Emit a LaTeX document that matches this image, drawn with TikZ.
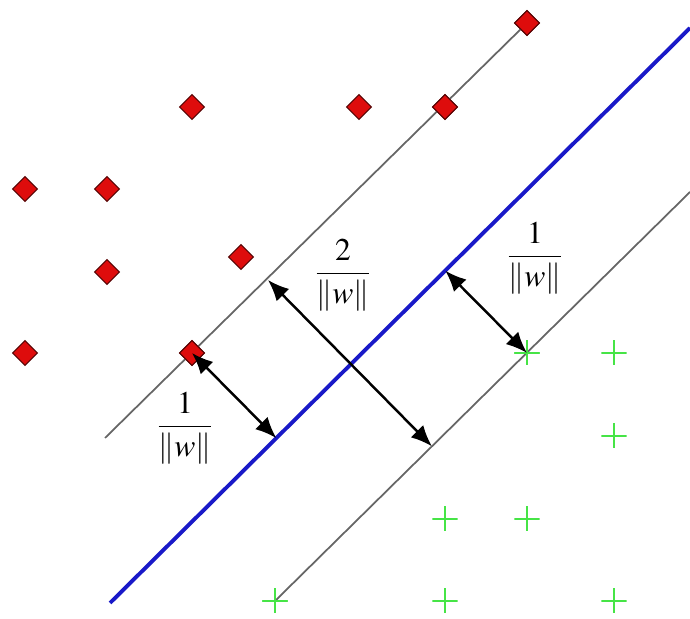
\documentclass[tikz,border=0pt]{standalone}
\usepackage{mathptmx}
\usetikzlibrary{shapes.geometric,arrows.meta,calc}
\definecolor{negred}{RGB}{222,12,12}
\definecolor{posgreen}{RGB}{70,228,70}
\definecolor{hypblue}{RGB}{25,25,200}
\tikzset{
	negmark/.style={diamond,draw=black!60!negred,line width=0.3pt,fill=negred,inner sep=0pt,minimum size=0.25cm},
	posmark/.style={inner sep=0pt,minimum size=0.25cm,
		path picture={\draw[posgreen,line width=0.7pt] (path picture bounding box.north)--(path picture bounding box.south)
			(path picture bounding box.west)--(path picture bounding box.east);}},
	marginline/.style={black!60,line width=0.5pt},
	gapline/.style={<->,line width=0.7pt},
	gaplabel/.style={font=\small}
}
\begin{document}
\begin{tikzpicture}[x=0.01cm,y=-0.01cm,>={Latex[length=6pt,width=5pt]}]
	\useasboundingbox (0,0) rectangle (690,619);
	% lines
	\coordinate (ua) at (105,438);
	\coordinate (ba) at (110,603);
	\coordinate (bb) at (690,28);
	\coordinate (lb) at (690,192);
	\coordinate (u1) at (268,280);
	% points
	\foreach \x/\y [count=\i] in {527/23,192/107,359/107,445/107,25/189,107/189,107/272,241/257,25/353,192/353}
		\node[negmark] (n\i) at (\x,\y) {};
	\foreach \x/\y [count=\i] in {527/353,614/353,614/436,445/519,527/519,275/601,445/601,614/601}
		\node[posmark] (p\i) at (\x,\y) {};
	\draw[marginline] (ua) -- (n1.center);
	\draw[marginline] (p6.center) -- (lb);
	\draw[hypblue,line width=1.1pt] (ba) -- (bb);
	\node[negmark] at (n10) {};
	\node[negmark] at (n4) {};
	\node[negmark] at (n1) {};
	\node[posmark] at (p1) {};
	\node[posmark] at (p6) {};
	% margins
	\draw[gapline] (n10.center) -- ($(ba)!(n10.center)!(bb)$);
	\draw[gapline] (u1) -- ($(p6.center)!(u1)!(lb)$);
	\draw[gapline] ($(ba)!(p1.center)!(bb)$) -- (p1.center);
	\node[gaplabel] (l1) at (185,428) {$\displaystyle\frac{1}{\|w\|}$};
	\node[gaplabel] (l2) at (343,275) {$\displaystyle\frac{2}{\|w\|}$};
	\node[gaplabel] (l3) at (535,258) {$\displaystyle\frac{1}{\|w\|}$};
\end{tikzpicture}
\end{document}
